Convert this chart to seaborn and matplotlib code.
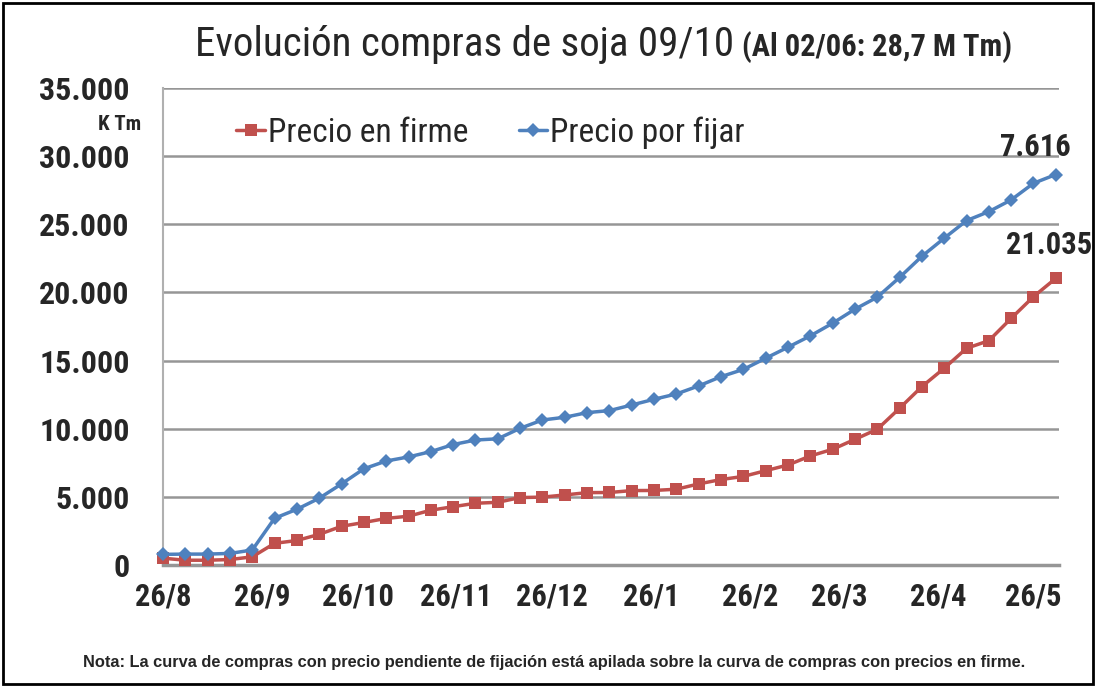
'''
evolucion compras de soja 09/10 - recreacion del grafico
'''

import matplotlib
matplotlib.use("Agg")
import matplotlib.pyplot as plt
from matplotlib.patches import Rectangle
from matplotlib.ticker import FuncFormatter
from matplotlib import font_manager
import pandas as pd
import seaborn as sns

# datos semanales (K Tm), desde el 26/8/2009 hasta el 2/6/2010
primera_semana = "2009-08-26"
precio_firme = [500, 350, 350, 400, 600, 1590, 1800, 2250, 2840, 3120,
                3420, 3580, 4020, 4280, 4530, 4600, 4950, 4980, 5140, 5310,
                5320, 5460, 5470, 5560, 5950, 6270, 6500, 6920, 7340, 8000,
                8490, 9220, 9960, 11500, 13090, 14440, 15900, 16460, 18100, 19690,
                21035]
# curva "por fijar" apilada sobre la de precio en firme
total_apilado = [780, 800, 800, 850, 1100, 3430, 4090, 4900, 5950, 7060,
                 7630, 7930, 8320, 8840, 9170, 9260, 10030, 10640, 10840, 11180,
                 11330, 11740, 12160, 12550, 13140, 13820, 14350, 15170, 15980, 16810,
                 17740, 18770, 19650, 21100, 22650, 23980, 25270, 25930, 26790, 28010,
                 28651]
tick_fechas = ["2009-08-26", "2009-09-26", "2009-10-26", "2009-11-26", "2009-12-26",
               "2010-01-26", "2010-02-26", "2010-03-26", "2010-04-26", "2010-05-26"]
tick_labels = ["26/8", "26/9", "26/10", "26/11", "26/12",
               "26/1", "26/2", "26/3", "26/4", "26/5"]

ROJO = "#C0504D"
AZUL = "#4F81BD"
GRIS = "#969696"


def pick_narrow():
    '''busca una fuente estrecha tipo Arial Narrow entre las instaladas'''
    fonts = font_manager.fontManager.ttflist
    names = {f.name for f in fonts}
    for fam in ["Liberation Sans Narrow", "Arial Narrow", "Roboto Condensed",
                "DejaVu Sans Condensed", "Noto Sans Condensed", "Open Sans Condensed"]:
        if fam in names:
            return fam, "normal", 1.0
    for fam in ["Roboto", "Noto Sans", "Open Sans", "DejaVu Sans"]:
        if any(f.name == fam and "condensed" in str(f.stretch) for f in fonts):
            return fam, "condensed", 1.0
    return "Liberation Sans", "normal", 0.85


sns.set_style("white")
fam, stretch, k = pick_narrow()
plt.rcParams["font.family"] = [fam, "DejaVu Sans"]
plt.rcParams["font.stretch"] = stretch
normal = ["Liberation Sans", "DejaVu Sans"]

fechas = pd.date_range(primera_semana, periods=len(precio_firme), freq="7D")
df = pd.DataFrame({"fecha": fechas, "firme": precio_firme, "total": total_apilado})

W, H = 1112, 686
fig = plt.figure(figsize=(W / 100, H / 100), dpi=100)
ax = fig.add_axes([163 / W, 1 - 565 / H, (1059 - 163) / W, (565 - 88) / H])

sns.lineplot(data=df, x="fecha", y="firme", ax=ax, color=ROJO, marker="s",
             markersize=8.5, markeredgewidth=0, linewidth=2.5, label="Precio en firme",
             clip_on=False, zorder=4)
sns.lineplot(data=df, x="fecha", y="total", ax=ax, color=AZUL, marker="D",
             markersize=7.5, markeredgewidth=0, linewidth=2.5, label="Precio por fijar",
             clip_on=False, zorder=5)

ax.set_ylim(0, 35000)
ax.set_xlim(pd.Timestamp(primera_semana), pd.Timestamp("2010-06-03"))
ax.set_yticks(range(0, 35001, 5000))
ax.yaxis.set_major_formatter(FuncFormatter(lambda v, p: f"{int(v):,}".replace(",", ".")))
ax.set_xticks(pd.to_datetime(tick_fechas))
ax.set_xticklabels(tick_labels)
ax.set_xlabel("")
ax.set_ylabel("")

ax.grid(axis="y", color=GRIS, linewidth=1.8)
ax.grid(axis="x", visible=False)
for side in ["top", "right"]:
    ax.spines[side].set_visible(False)
ax.spines["left"].set_color("#B0B0B0")
ax.spines["left"].set_linewidth(1.5)
ax.spines["bottom"].set_color(GRIS)
ax.spines["bottom"].set_linewidth(2.5)

ax.tick_params(axis="x", direction="out", length=7, width=1.5, color=GRIS,
               labelsize=22 * k, pad=5)
ax.tick_params(axis="y", length=0, labelsize=23 * k, pad=24)
for lab in ax.get_xticklabels() + ax.get_yticklabels():
    lab.set_fontweight("bold")

ax.legend(loc="center left", bbox_to_anchor=(0.082, 0.906), ncol=2, frameon=False,
          fontsize=24 * k, handlelength=0.85, handletextpad=0.1, columnspacing=1.5,
          borderpad=0, borderaxespad=0)

ultimo = df.iloc[-1]
ax.annotate(f"{ultimo.total - ultimo.firme:,}".replace(",", "."),
            (ultimo.fecha, ultimo.total), xytext=(-15, 9), textcoords="offset points",
            ha="center", va="bottom", fontsize=22 * k, fontweight="bold",
            annotation_clip=False)
ax.annotate(f"{ultimo.firme:,}".replace(",", "."),
            (ultimo.fecha, ultimo.firme), xytext=(-5, 13), textcoords="offset points",
            ha="center", va="bottom", fontsize=22 * k, fontweight="bold",
            annotation_clip=False)

fig.text(120 / W, 1 - 125 / H, "K Tm", ha="center", va="center", fontsize=15 * k,
         fontweight="bold")

t1 = fig.text(195 / W, 1 - 56 / H, "Evolución compras de soja 09/10", ha="left",
              va="baseline", fontsize=29.5 * k)
fig.canvas.draw()
bb = t1.get_window_extent()
fig.text((bb.x1 + 8) / W, 1 - 56 / H, "(Al 02/06: 28,7 M Tm)", ha="left",
         va="baseline", fontsize=22 * k, fontweight="bold")

fig.text(554 / W, 1 - 663 / H,
         "Nota: La curva de compras con precio pendiente de fijación está apilada "
         "sobre la curva de compras con precios en firme.",
         ha="center", va="center", fontsize=11.8, fontweight="bold", family=normal)

fig.patches.append(Rectangle((3 / W, 2 / H), 1090 / W, 681 / H, transform=fig.transFigure,
                             fill=False, edgecolor="black", linewidth=2))

fig.savefig("out.png", dpi=100)
